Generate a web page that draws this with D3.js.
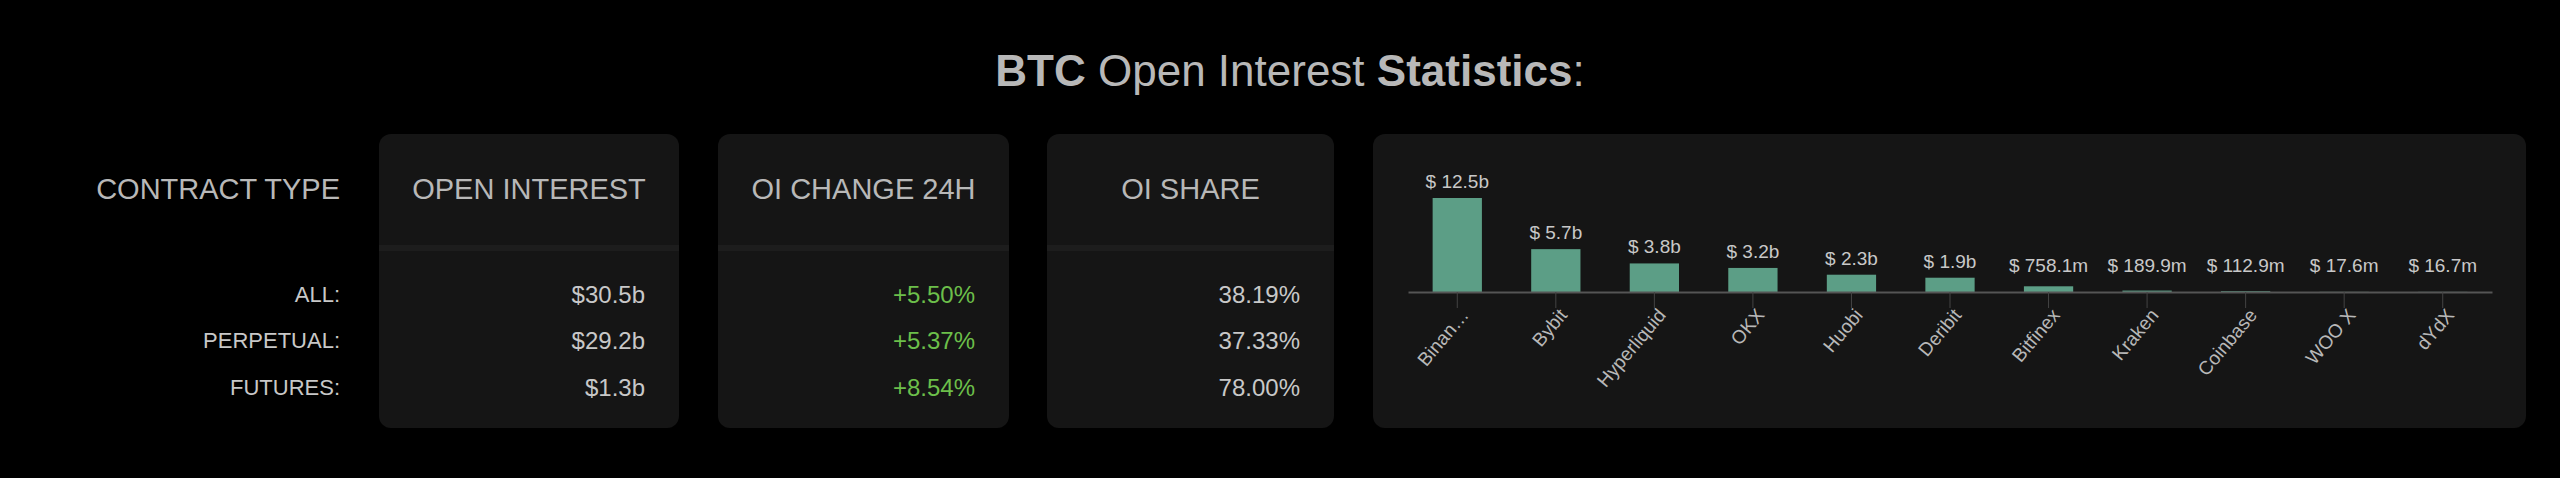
<!DOCTYPE html>
<html><head><meta charset="utf-8">
<script src="https://cdn.jsdelivr.net/npm/d3@7/dist/d3.min.js"></script>
<style>body{margin:0;background:#000;}svg{display:block;font-family:"Liberation Sans",Arial,sans-serif;}</style>
</head><body><svg id="c" width="2560" height="478"></svg>
<script>
const rowLabels = ["ALL:", "PERPETUAL:", "FUTURES:"];
const openInterest = ["$30.5b", "$29.2b", "$1.3b"];
const oiChange = ["+5.50%", "+5.37%", "+8.54%"];
const oiShare = ["38.19%", "37.33%", "78.00%"];
const exchanges = ["Binan…","Bybit","Hyperliquid","OKX","Huobi","Deribit","Bitfinex","Kraken","Coinbase","WOO X","dYdX"];
const exchangeOI = [12.5, 5.7, 3.8, 3.2, 2.3, 1.9, 0.7581, 0.1899, 0.1129, 0.0176, 0.0167];
const exchangeLabels = ["$ 12.5b","$ 5.7b","$ 3.8b","$ 3.2b","$ 2.3b","$ 1.9b","$ 758.1m","$ 189.9m","$ 112.9m","$ 17.6m","$ 16.7m"];

const svg = d3.select("#c");
const t = svg.append("text").attr("x",1290).attr("y",86).attr("text-anchor","middle")
  .attr("font-size",44).attr("fill","#b8b8b8");
t.append("tspan").attr("font-weight","bold").text("BTC");
t.append("tspan").text(" Open Interest ");
t.append("tspan").attr("font-weight","bold").text("Statistics");
t.append("tspan").text(":");

const rowY = [294, 340, 387];
svg.append("text").attr("x",340).attr("y",199).attr("text-anchor","end").attr("font-size",29).attr("fill","#b8b8b8").text("CONTRACT TYPE");
rowLabels.forEach((l,i)=>svg.append("text").attr("x",340).attr("y",rowY[i]+8).attr("text-anchor","end").attr("font-size",22).attr("fill","#c8c8c8").text(l));

const cols = [
  {x0:379,x1:679,h:"OPEN INTEREST",v:openInterest,c:"#c8c8c8"},
  {x0:718,x1:1009,h:"OI CHANGE 24H",v:oiChange,c:"#6cbf4a"},
  {x0:1047,x1:1334,h:"OI SHARE",v:oiShare,c:"#c8c8c8"}];
cols.forEach(c=>{
  svg.append("rect").attr("x",c.x0).attr("y",134).attr("width",c.x1-c.x0).attr("height",294).attr("rx",12).attr("fill","#151515");
  svg.append("rect").attr("x",c.x0).attr("y",245).attr("width",c.x1-c.x0).attr("height",6).attr("fill","#1d1d1d");
  svg.append("text").attr("x",(c.x0+c.x1)/2).attr("y",199).attr("text-anchor","middle").attr("font-size",29).attr("fill","#b8b8b8").text(c.h);
  c.v.forEach((v,i)=>svg.append("text").attr("x",c.x1-34).attr("y",rowY[i]+9).attr("text-anchor","end").attr("font-size",24).attr("fill",c.c).text(v));
});

svg.append("rect").attr("x",1373).attr("y",134).attr("width",1153).attr("height",294).attr("rx",12).attr("fill","#151515");
const x = d3.scaleBand().domain(exchanges).range([1408,2492]).paddingInner(0.5).paddingOuter(0.25);
const base = 292;
const y = d3.scaleLinear().domain([0,12.5]).range([base,198]);
const g = svg.append("g");
g.selectAll("rect.b").data(exchanges).join("rect").attr("class","b")
  .attr("x",d=>x(d)).attr("width",x.bandwidth())
  .attr("y",(d,i)=>y(exchangeOI[i])).attr("height",(d,i)=>base-y(exchangeOI[i])).attr("fill","#5c9e86");
g.selectAll("text.v").data(exchanges).join("text").attr("class","v")
  .attr("x",d=>x(d)+x.bandwidth()/2).attr("y",(d,i)=>Math.min(y(exchangeOI[i]),base-10)-10)
  .attr("text-anchor","middle").attr("font-size",19).attr("fill","#c8c8c8").text((d,i)=>exchangeLabels[i]);
const ax = svg.append("g").attr("transform",`translate(0,${base})`).call(d3.axisBottom(x).tickSize(16).tickSizeOuter(0));
ax.select(".domain").attr("stroke","#555").attr("stroke-width",2);
ax.selectAll(".tick line").attr("stroke","#444");
ax.selectAll(".tick text").attr("fill","#b8b8b8").attr("font-size",19).attr("font-family","Liberation Sans, Arial")
  .attr("text-anchor","end").attr("dy","0.3em").attr("transform","translate(8,20) rotate(-50)").attr("y",0).attr("x",0);
</script></body></html>
